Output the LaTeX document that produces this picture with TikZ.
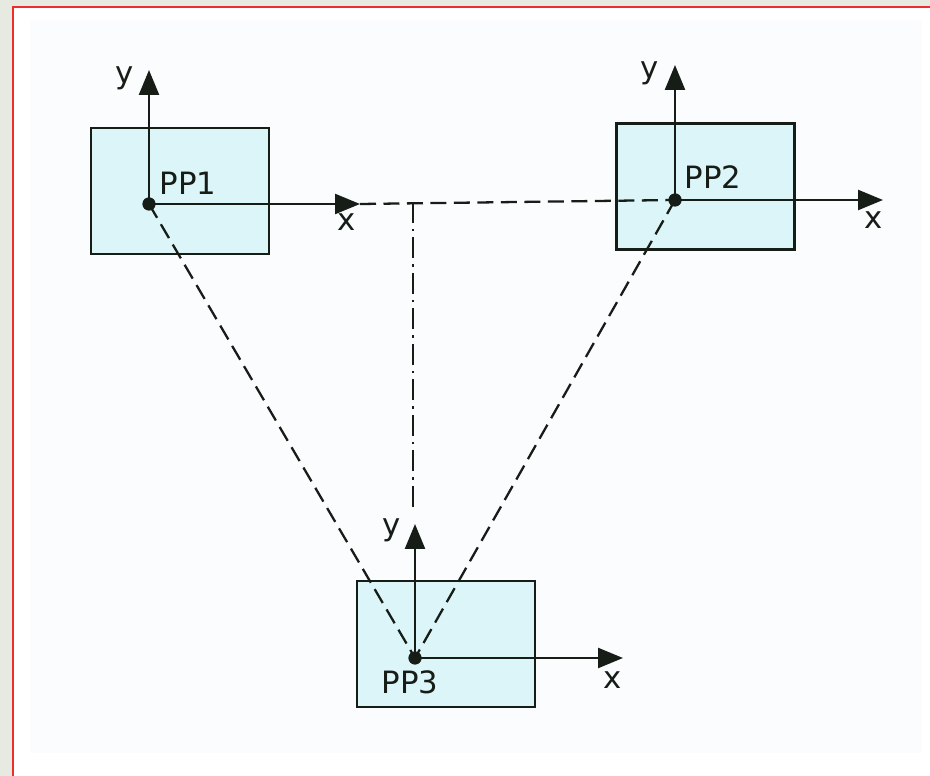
\documentclass[tikz,border=0pt]{standalone}
\usepackage{fontspec}
\setmainfont{DejaVu Sans}
\usetikzlibrary{positioning, arrows.meta}
\definecolor{paper}{RGB}{230,234,224}
\definecolor{frameRed}{RGB}{238,45,45}
\definecolor{sheet}{RGB}{250,252,254}
\definecolor{plateFill}{RGB}{220,245,249}
\definecolor{inkDark}{RGB}{22,28,22}

\begin{document}
\begin{tikzpicture}[
    x=0.02cm, y=-0.02cm,
    every node/.style={text=inkDark, font=\fontsize{17.5}{20}\selectfont},
    plate/.style={draw=inkDark, fill=plateFill, line width=1.4pt,
        minimum width=3.56cm, minimum height=2.52cm, inner sep=0pt},
    origin/.style={circle, fill=inkDark, minimum size=0.26cm, inner sep=0pt},
    axis/.style={inkDark, line width=1.4pt,
        -{Triangle[length=0.5cm, width=0.4cm]}},
    link/.style={inkDark, line width=1.3pt, dash pattern=on 0.32cm off 0.15cm},
    centreline/.style={inkDark, line width=1.2pt,
        dash pattern=on 0.42cm off 0.12cm on 0.05cm off 0.12cm},
]
% Canvas: 930 x 776 px, y grows downwards

% --- Scanned page: grey margin, red frame, sheet ---
\useasboundingbox (0,0) rectangle (930,776);
\fill[paper] (0,0) rectangle (930,776);
\filldraw[fill=white, draw=frameRed, line width=1.2pt] (13,7) rectangle (940,790);
\fill[sheet] (30,20) rectangle (922,753);

% --- Plates ---
\node[plate] (box1) at (180,191)   {};
\node[plate] (box2) at (705.5,186.5) {};
\node[plate] (box3) at (446,644)   {};

% --- Origins ---
\node[origin] (pp1) at (149,204) {};
\node[origin] (pp2) at (675,200) {};
\node[origin] (pp3) at (415,658) {};

% axis tips
\coordinate (pp1y) at (149,70);
\coordinate (pp1x) at (360,204);
\coordinate (pp2y) at (675,65);
\coordinate (pp2x) at (883,200);
\coordinate (pp3y) at (415,524);
\coordinate (pp3x) at (623,658);

% foot of the centre line
\coordinate (drop) at (413,202);
\coordinate (meet) at (413,512);

% --- Dashed links between the origins ---
\draw[link] (pp1x) -- (pp2.center);
\draw[link] (pp1.center) -- (pp3.center);
\draw[link] (pp2.center) -- (pp3.center);
\draw[centreline] (drop) -- (meet);

% --- Local axes ---
\foreach \p in {pp1, pp2, pp3} {
    \draw[axis] (\p.center) -- (\p y);
    \draw[axis] (\p.center) -- (\p x);
}
\node[origin] at (pp1) {};
\node[origin] at (pp2) {};
\node[origin] at (pp3) {};

% --- Labels ---
\node (y1) at (125,78)  {y};
\node (x1) at (347,222) {x};
\node (y2) at (650,73)  {y};
\node (x2) at (874,220) {x};
\node (y3) at (392,530) {y};
\node (x3) at (613,680) {x};

\node (lab1) at (188,183) {PP1};
\node (lab2) at (713,177) {PP2};
\node (lab3) at (410,682) {PP3};

\end{tikzpicture}
\end{document}
